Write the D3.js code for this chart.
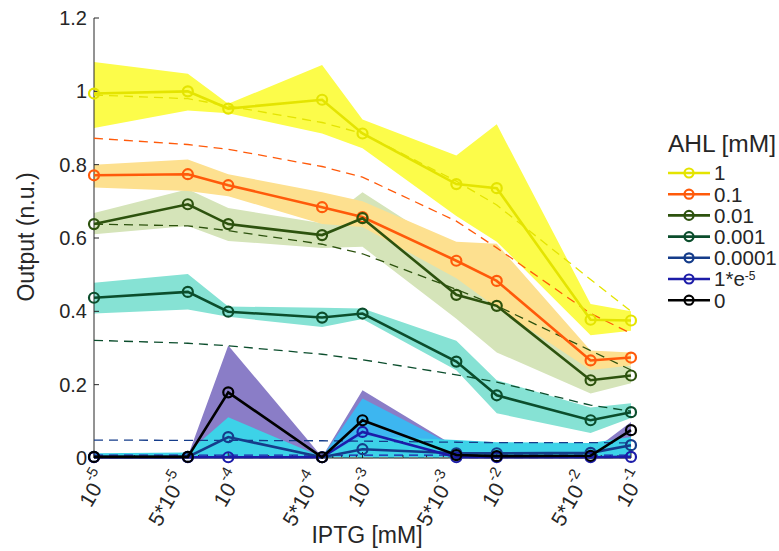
<!DOCTYPE html>
<html lang="en">
<head>
<meta charset="UTF-8">
<title>AHL / IPTG response</title>
<script src="https://d3js.org/d3.v7.min.js"></script>
<style>
  body { margin: 0; background: #fff; }
  text { font-family: "Liberation Sans", Arial, sans-serif; fill: #262626; }
</style>
</head>
<body>
<div id="chart"></div>
<script>
// IPTG concentrations (mM)
const iptg = [1e-5, 5e-5, 1e-4, 5e-4, 1e-3, 5e-3, 1e-2, 5e-2, 1e-1];
const iptgLabels = [["10", "-5"], ["5*10", "-5"], ["10", "-4"], ["5*10", "-4"], ["10", "-3"],
                    ["5*10", "-3"], ["10", "-2"], ["5*10", "-2"], ["10", "-1"]];
const yTicks = [0, 0.2, 0.4, 0.6, 0.8, 1, 1.2];

// AHL levels (legend)
const ahlNames = ["1", "0.1", "0.01", "0.001", "0.0001", "1*e", "0"];

// measured means
const mean1 = [0.994, 1.0, 0.953, 0.977, 0.885, 0.747, 0.736, 0.377, 0.375];
const mean2 = [0.771, 0.774, 0.744, 0.684, 0.657, 0.538, 0.483, 0.266, 0.274];
const mean3 = [0.638, 0.692, 0.638, 0.608, 0.654, 0.445, 0.415, 0.212, 0.225];
const mean4 = [0.437, 0.453, 0.399, 0.383, 0.394, 0.263, 0.171, 0.103, 0.125];
const mean5 = [0.003, 0.003, 0.057, 0.002, 0.024, 0.013, 0.013, 0.014, 0.035];
const mean6 = [0.002, 0.002, 0.002, 0.002, 0.071, 0.002, 0.002, 0.002, 0.003];
const mean7 = [0.003, 0.003, 0.179, 0.002, 0.103, 0.008, 0.005, 0.006, 0.076];

// shaded spread (upper / lower)
const up1 = [1.08, 1.048, 0.966, 1.072, 0.923, 0.825, 0.91, 0.42, 0.40];
const lo1 = [0.90, 0.948, 0.94, 0.885, 0.845, 0.66, 0.59, 0.335, 0.347];
const up2 = [0.80, 0.814, 0.774, 0.725, 0.70, 0.59, 0.584, 0.293, 0.288];
const lo2 = [0.738, 0.728, 0.714, 0.638, 0.63, 0.49, 0.41, 0.24, 0.252];
const up3 = [0.668, 0.733, 0.682, 0.64, 0.725, 0.56, 0.50, 0.26, 0.25];
const lo3 = [0.61, 0.633, 0.592, 0.573, 0.576, 0.38, 0.288, 0.176, 0.204];
const up4 = [0.478, 0.502, 0.413, 0.41, 0.408, 0.32, 0.212, 0.138, 0.149];
const lo4 = [0.394, 0.405, 0.385, 0.357, 0.379, 0.239, 0.122, 0.068, 0.109];
const up5 = [0.013, 0.015, 0.111, 0.003, 0.06, 0.049, 0.043, 0.041, 0.057];
const up6 = [0.004, 0.004, 0.004, 0.003, 0.162, 0.03, 0.01, 0.01, 0.02];
const up7 = [0.005, 0.005, 0.307, 0.003, 0.185, 0.03, 0.015, 0.015, 0.098];
const zeros = [0, 0, 0, 0, 0, 0, 0, 0, 0];

// model curves (dashed)
const model1 = [0.99, 0.98, 0.96, 0.915, 0.885, 0.755, 0.69, 0.487, 0.40];
const model2 = [0.872, 0.855, 0.842, 0.795, 0.766, 0.646, 0.573, 0.394, 0.34];
const model3 = [0.638, 0.633, 0.62, 0.583, 0.557, 0.46, 0.415, 0.293, 0.24];
const model4 = [0.321, 0.313, 0.306, 0.283, 0.268, 0.227, 0.207, 0.144, 0.128];
const model5 = [0.049, 0.048, 0.048, 0.047, 0.046, 0.043, 0.042, 0.042, 0.041];
const model6 = [0.008, 0.008, 0.008, 0.008, 0.008, 0.008, 0.008, 0.008, 0.008];
const model7 = [0, 0, 0, 0, 0, 0, 0, 0, 0];

const lineColors = ["#e4e400", "#ff5a0a", "#2d520e", "#0b4d2c", "#153c8a", "#1c1ca8", "#000000"];
const bandColors = ["#fcfc4a", "#fde08f", "#d5e4b9", "#86e2d4", "#3dd2e8", "#3db6f0", "#8a7dc7"];

const series = [
  { m: mean1, up: up1, lo: lo1, model: model1 },
  { m: mean2, up: up2, lo: lo2, model: model2 },
  { m: mean3, up: up3, lo: lo3, model: model3 },
  { m: mean4, up: up4, lo: lo4, model: model4 },
  { m: mean5, up: up5, lo: zeros, model: model5 },
  { m: mean6, up: up6, lo: zeros, model: model6 },
  { m: mean7, up: up7, lo: zeros, model: model7 }
];

const width = 779, height = 551;
const svg = d3.select("#chart").append("svg")
  .attr("width", width).attr("height", height);

const x = d3.scaleLog().domain([1e-5, 1e-1]).range([94, 631]);
const y = d3.scaleLinear().domain([0, 1.2]).range([458, 18]);

// bands, drawn from the last series up so AHL=1 sits on top
const area = d3.area()
  .x((d, i) => x(iptg[i]))
  .y0(d => y(d[0]))
  .y1(d => y(d[1]));

for (let k = series.length - 1; k >= 0; k--) {
  const s = series[k];
  svg.append("path")
    .datum(s.lo.map((v, i) => [v, s.up[i]]))
    .attr("d", area)
    .attr("fill", bandColors[k]);
}

// axes
const axisColor = "#262626";
svg.append("line").attr("x1", 94).attr("x2", 94).attr("y1", y(1.2)).attr("y2", y(0))
  .attr("stroke", axisColor).attr("stroke-width", 1);
svg.append("line").attr("x1", 94).attr("x2", 631).attr("y1", y(0)).attr("y2", y(0))
  .attr("stroke", axisColor).attr("stroke-width", 1);

yTicks.forEach(t => {
  svg.append("line").attr("x1", 94).attr("x2", 99).attr("y1", y(t)).attr("y2", y(t))
    .attr("stroke", axisColor);
  svg.append("text").attr("x", 87).attr("y", y(t)).attr("dy", "0.35em")
    .attr("text-anchor", "end").attr("font-size", 20).text(t);
});

// minor log ticks
const minor = [];
for (let d = -5; d < -1; d++) {
  for (let k = 2; k <= 9; k++) if (k !== 5) minor.push(k * Math.pow(10, d));
}
minor.forEach(v => {
  svg.append("line").attr("x1", x(v)).attr("x2", x(v)).attr("y1", y(0)).attr("y2", y(0) - 3)
    .attr("stroke", axisColor);
});
iptg.forEach((v, i) => {
  svg.append("line").attr("x1", x(v)).attr("x2", x(v)).attr("y1", y(0)).attr("y2", y(0) - 6)
    .attr("stroke", axisColor);
  const lab = iptgLabels[i];
  const five = lab[0].length > 2;
  const dx = five ? -6 : 9;
  const ty = five ? 475 : 473;
  const t = svg.append("text")
    .attr("transform", `translate(${x(v) + dx},${ty}) rotate(-60)`)
    .attr("text-anchor", "end").attr("dy", "0.35em").attr("font-size", 21);
  t.append("tspan").text(lab[0]);
  t.append("tspan").attr("font-size", 15).attr("dy", "-0.8em").text(lab[1]);
});

svg.append("text").attr("x", 367).attr("y", 543).attr("text-anchor", "middle")
  .attr("font-size", 23).text("IPTG [mM]");
svg.append("text").attr("transform", "translate(34,237) rotate(-90)")
  .attr("text-anchor", "middle").attr("font-size", 23).text("Output (n.u.)");

// model curves
const line = d3.line().x((d, i) => x(iptg[i])).y(d => y(d));
series.forEach((s, k) => {
  svg.append("path").datum(s.model).attr("d", line)
    .attr("fill", "none")
    .attr("stroke", k === 6 ? "#808080" : lineColors[k])
    .attr("stroke-width", 1.3)
    .attr("stroke-dasharray", "9,6");
});

// measured lines and markers
series.forEach((s, k) => {
  svg.append("path").datum(s.m).attr("d", line)
    .attr("fill", "none").attr("stroke", lineColors[k]).attr("stroke-width", 2.6);
  svg.selectAll(null).data(s.m).join("circle")
    .attr("cx", (d, i) => x(iptg[i])).attr("cy", d => y(d)).attr("r", 5)
    .attr("fill", "none").attr("stroke", lineColors[k]).attr("stroke-width", 2.2);
});

// legend
const lg = svg.append("g");
lg.append("text").attr("x", 668).attr("y", 152).attr("font-size", 24.5).text("AHL [mM]");
ahlNames.forEach((name, k) => {
  const cy = 173 + k * 21.2;
  lg.append("line").attr("x1", 668).attr("x2", 710).attr("y1", cy).attr("y2", cy)
    .attr("stroke", lineColors[k]).attr("stroke-width", 2.6);
  lg.append("circle").attr("cx", 689).attr("cy", cy).attr("r", 4.5)
    .attr("fill", "none").attr("stroke", lineColors[k]).attr("stroke-width", 2.2);
  const t = lg.append("text").attr("x", 714).attr("y", cy).attr("dy", "0.36em")
    .attr("font-size", 20.5);
  t.append("tspan").text(name);
  if (name === "1*e") t.append("tspan").attr("font-size", 12).attr("dy", "-0.55em").text("-5");
});
</script>
</body>
</html>
